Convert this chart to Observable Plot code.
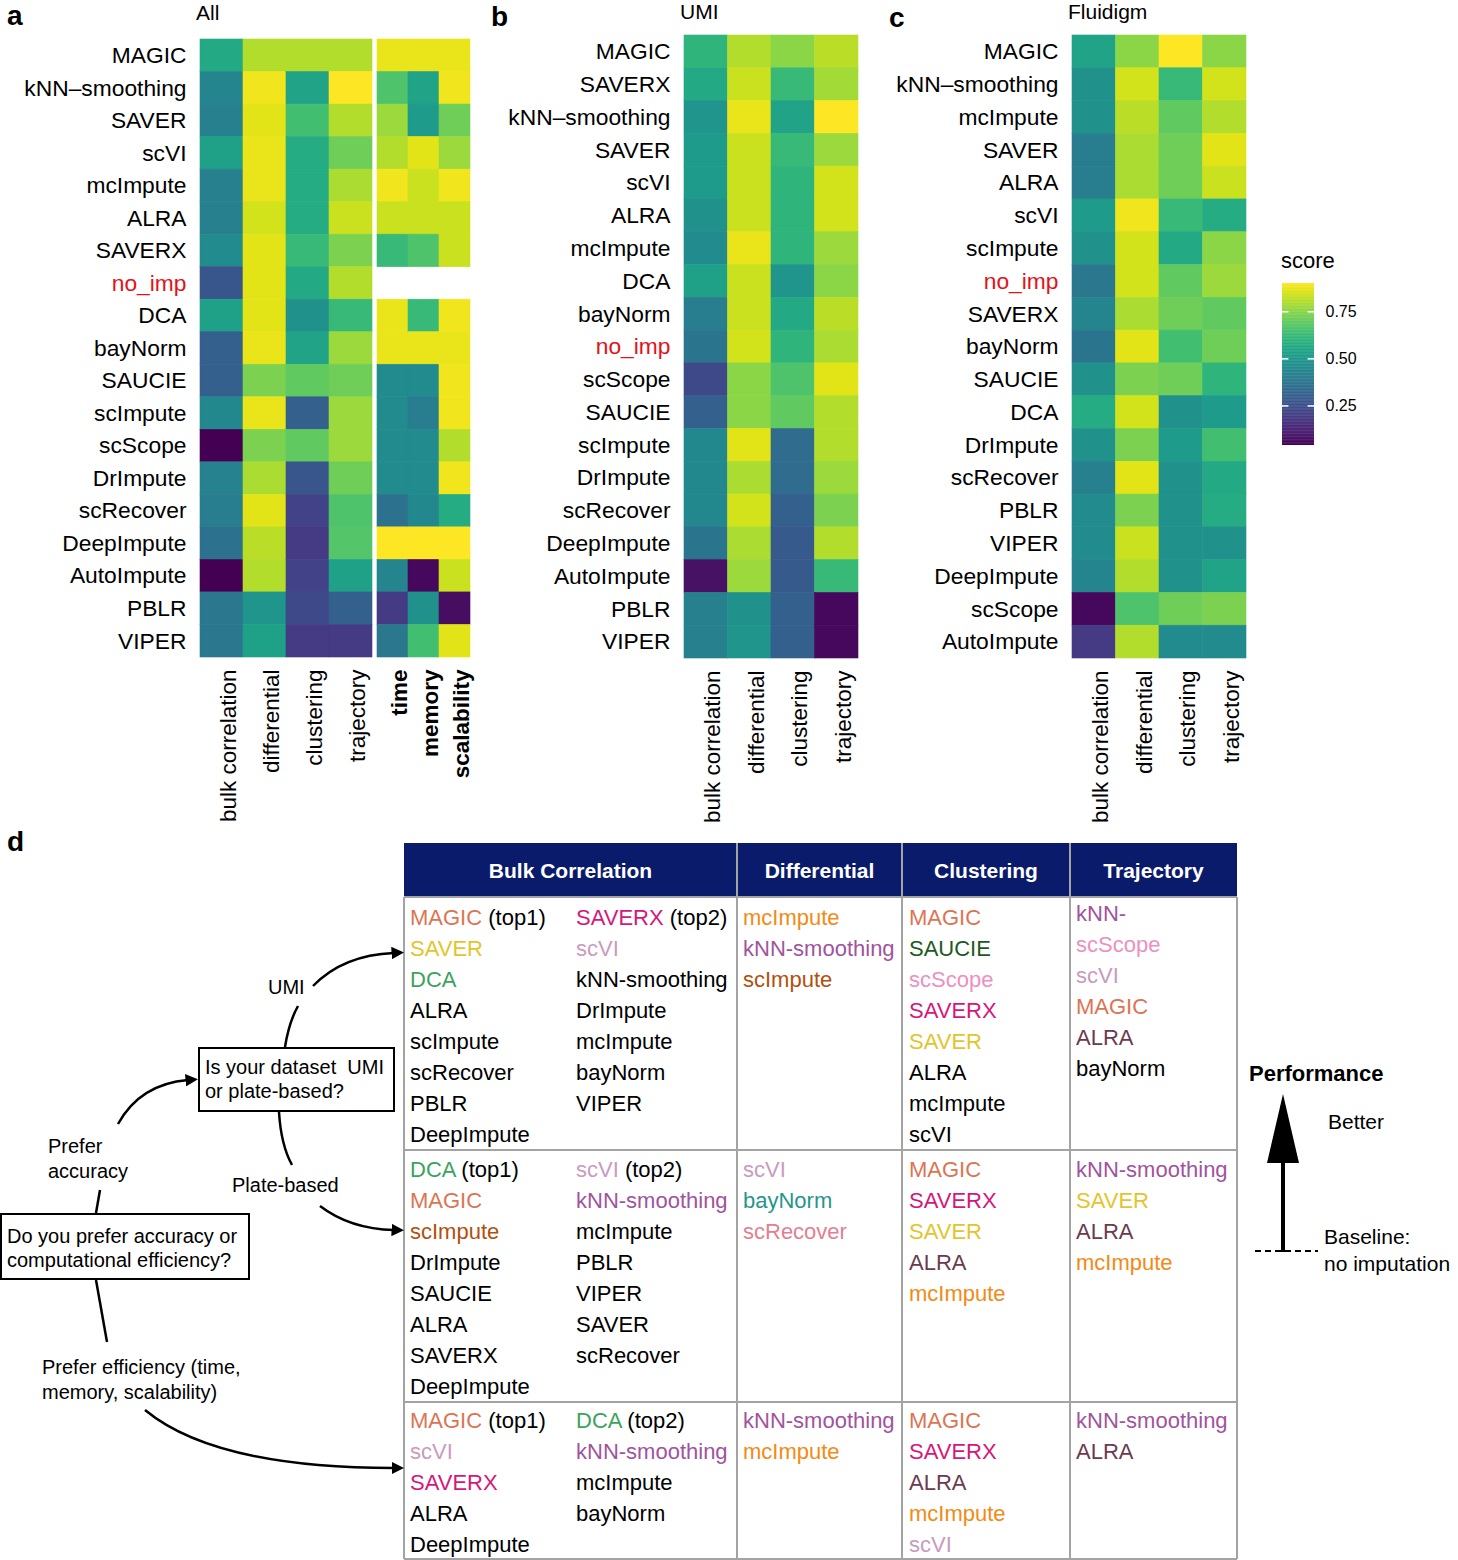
<!DOCTYPE html>
<html>
<head>
<meta charset="utf-8">
<script src="https://cdn.jsdelivr.net/npm/d3@7"></script>
<script src="https://cdn.jsdelivr.net/npm/@observablehq/plot@0.6"></script>
<style>
  html, body { margin: 0; padding: 0; background: #fff; }
  #page { position: relative; width: 1458px; height: 1560px; overflow: hidden;
          font-family: "Liberation Sans", Arial, Helvetica, sans-serif; color: #000; }
  .abs { position: absolute; white-space: pre; }
</style>
</head>
<body>
<div id="page"></div>
<script>
// ---------------- DATA ----------------
const perfMetrics = ["bulk correlation", "differential", "clustering", "trajectory"];
const effMetrics = ["time", "memory", "scalability"];

// Panel a: All
const methodsAll = ["MAGIC","kNN–smoothing","SAVER","scVI","mcImpute","ALRA","SAVERX","no_imp","DCA","bayNorm","SAUCIE","scImpute","scScope","DrImpute","scRecover","DeepImpute","AutoImpute","PBLR","VIPER"];
const allBulk  = [0.56,0.43,0.41,0.53,0.41,0.41,0.45,0.27,0.53,0.30,0.30,0.44,0.04,0.42,0.40,0.36,0.04,0.38,0.38];
const allDiff  = [0.80,0.88,0.86,0.87,0.87,0.84,0.86,0.86,0.86,0.87,0.73,0.87,0.73,0.79,0.86,0.81,0.80,0.49,0.53];
const allClust = [0.80,0.54,0.64,0.57,0.57,0.57,0.62,0.56,0.47,0.54,0.69,0.30,0.69,0.27,0.21,0.19,0.21,0.23,0.19];
const allTraj  = [0.80,0.90,0.80,0.71,0.79,0.83,0.73,0.80,0.62,0.77,0.71,0.77,0.77,0.71,0.66,0.67,0.53,0.30,0.19];
const allTime  = [0.87,0.66,0.77,0.80,0.88,0.83,0.62,null,0.87,0.87,0.45,0.45,0.45,0.45,0.36,0.90,0.43,0.19,0.38];
const allMem   = [0.87,0.54,0.51,0.86,0.83,0.83,0.66,null,0.62,0.87,0.45,0.40,0.45,0.45,0.44,0.90,0.06,0.47,0.64];
const allScal  = [0.87,0.88,0.71,0.77,0.88,0.83,0.83,null,0.88,0.87,0.88,0.88,0.80,0.88,0.57,0.90,0.83,0.07,0.86];

// Panel b: UMI
const methodsUMI = ["MAGIC","SAVERX","kNN–smoothing","SAVER","scVI","ALRA","mcImpute","DCA","bayNorm","no_imp","scScope","SAUCIE","scImpute","DrImpute","scRecover","DeepImpute","AutoImpute","PBLR","VIPER"];
const umiBulk  = [0.60,0.56,0.49,0.51,0.51,0.47,0.45,0.53,0.40,0.37,0.23,0.30,0.44,0.44,0.44,0.37,0.08,0.41,0.41];
const umiDiff  = [0.80,0.83,0.87,0.83,0.83,0.83,0.87,0.83,0.83,0.84,0.75,0.75,0.86,0.79,0.84,0.79,0.77,0.47,0.49];
const umiClust = [0.75,0.62,0.54,0.62,0.60,0.60,0.60,0.49,0.56,0.60,0.66,0.69,0.34,0.34,0.30,0.28,0.28,0.30,0.30];
const umiTraj  = [0.81,0.78,0.90,0.77,0.84,0.84,0.77,0.75,0.81,0.79,0.86,0.80,0.80,0.77,0.73,0.80,0.62,0.06,0.06];

// Panel c: Fluidigm
const methodsFlu = ["MAGIC","kNN–smoothing","mcImpute","SAVER","ALRA","scVI","scImpute","no_imp","SAVERX","bayNorm","SAUCIE","DCA","DrImpute","scRecover","PBLR","VIPER","DeepImpute","scScope","AutoImpute"];
const fluBulk  = [0.54,0.47,0.47,0.40,0.40,0.51,0.47,0.38,0.43,0.37,0.47,0.57,0.47,0.41,0.45,0.45,0.43,0.06,0.19];
const fluDiff  = [0.75,0.84,0.81,0.79,0.79,0.88,0.84,0.84,0.79,0.86,0.73,0.84,0.73,0.86,0.73,0.83,0.80,0.66,0.80];
const fluClust = [0.90,0.62,0.69,0.71,0.71,0.62,0.56,0.69,0.71,0.64,0.71,0.47,0.51,0.47,0.47,0.47,0.47,0.71,0.45];
const fluTraj  = [0.75,0.84,0.80,0.86,0.83,0.57,0.75,0.77,0.69,0.71,0.60,0.51,0.64,0.56,0.57,0.47,0.54,0.73,0.45];

const legendTicks = [0.25, 0.50, 0.75];
const scoreDomain = [0.04, 0.90];

// Panel d: recommendation table
const tableHeaders = ["Bulk Correlation", "Differential", "Clustering", "Trajectory"];
const rowUMI = {
  bulk1: ["MAGIC","SAVER","DCA","ALRA","scImpute","scRecover","PBLR","DeepImpute"], bulk1Hl: 3,
  bulk2: ["SAVERX","scVI","kNN-smoothing","DrImpute","mcImpute","bayNorm","VIPER"], bulk2Hl: 2,
  diff: ["mcImpute","kNN-smoothing","scImpute"], diffHl: 3,
  clust: ["MAGIC","SAUCIE","scScope","SAVERX","SAVER","ALRA","mcImpute","scVI"], clustHl: 5,
  traj: ["kNN-","scScope","scVI","MAGIC","ALRA","bayNorm"], trajHl: 5
};
const rowPlate = {
  bulk1: ["DCA","MAGIC","scImpute","DrImpute","SAUCIE","ALRA","SAVERX","DeepImpute"], bulk1Hl: 3,
  bulk2: ["scVI","kNN-smoothing","mcImpute","PBLR","VIPER","SAVER","scRecover"], bulk2Hl: 2,
  diff: ["scVI","bayNorm","scRecover"], diffHl: 3,
  clust: ["MAGIC","SAVERX","SAVER","ALRA","mcImpute"], clustHl: 5,
  traj: ["kNN-smoothing","SAVER","ALRA","mcImpute"], trajHl: 4
};
const rowEff = {
  bulk1: ["MAGIC","scVI","SAVERX","ALRA","DeepImpute"], bulk1Hl: 3,
  bulk2: ["DCA","kNN-smoothing","mcImpute","bayNorm"], bulk2Hl: 2,
  diff: ["kNN-smoothing","mcImpute"], diffHl: 2,
  clust: ["MAGIC","SAVERX","ALRA","mcImpute","scVI"], clustHl: 5,
  traj: ["kNN-smoothing","ALRA"], trajHl: 2
};
const methodColors = {
  "MAGIC": "#dc7452", "SAVERX": "#d4187a", "SAVER": "#e3c42c", "scVI": "#c89bbf",
  "DCA": "#3ba35d", "mcImpute": "#f38a16", "kNN-smoothing": "#a0549d", "kNN-": "#a0549d",
  "scImpute": "#b2500d", "SAUCIE": "#1d5a1f", "scScope": "#ec90c2", "ALRA": "#6c3a4f",
  "bayNorm": "#26968a", "scRecover": "#e27f93"
};

// ---------------- HELPERS ----------------
const FONT = '"Liberation Sans", Arial, Helvetica, sans-serif';
const page = document.getElementById("page");
function put(el, left, top) {
  el.style.position = "absolute"; el.style.left = left + "px"; el.style.top = top + "px";
  page.appendChild(el); return el;
}
function label(text, x, yc, o = {}) {
  const d = document.createElement("div");
  d.className = "abs";
  const fs = o.size || 20, lh = o.lh || Math.round(fs * 1.3);
  d.textContent = text;
  d.style.fontSize = fs + "px"; d.style.lineHeight = lh + "px";
  if (o.bold) d.style.fontWeight = "bold";
  if (o.color) d.style.color = o.color;
  d.style.left = x + "px"; d.style.top = (yc - lh / 2) + "px";
  if (o.center) { d.style.transform = "translateX(-50%)"; }
  page.appendChild(d); return d;
}

const colorOpts = { type: "linear", scheme: "viridis", domain: scoreDomain };

function tidy(methods, metrics, cols) {
  const out = [];
  metrics.forEach((m, j) => methods.forEach((r, i) => {
    const v = cols[j][i];
    if (v != null) out.push({ method: r, metric: m, score: v });
  }));
  return out;
}

function heat({ methods, metrics, data, cellW, cellH, marginLeft, rowLabels, bold }) {
  const w = marginLeft + cellW, h = cellH + 185;
  return Plot.plot({
    width: w, height: h, marginLeft, marginRight: 0, marginTop: 0, marginBottom: 185,
    x: { domain: metrics, padding: 0, round: false, label: null, axis: null },
    y: { domain: methods, padding: 0, round: false, label: null, axis: null },
    color: colorOpts,
    style: { fontFamily: FONT, color: "#000", background: "transparent", overflow: "visible" },
    marks: [
      Plot.cell(data, { x: "metric", y: "method", fill: "score", stroke: "score", strokeWidth: 0.6, inset: 0 }),
      Plot.axisX({ tickRotate: -90, tickSize: 0, tickPadding: 12, fontSize: 22.5, dx: 7,
                   fontWeight: bold ? "bold" : "normal", label: null }),
      rowLabels ? Plot.text(methods, { y: d => d, text: d => d, frameAnchor: "left", textAnchor: "end",
                   dx: -14, fontSize: 22.8, fill: d => d === "no_imp" ? "#e3121b" : "#000" }) : null
    ]
  });
}

// ---------------- PANEL a ----------------
put(heat({ methods: methodsAll, metrics: perfMetrics,
  data: tidy(methodsAll, perfMetrics, [allBulk, allDiff, allClust, allTraj]),
  cellW: 172, cellH: 618, marginLeft: 200, rowLabels: true }), 0, 39);
put(heat({ methods: methodsAll, metrics: effMetrics,
  data: tidy(methodsAll, effMetrics, [allTime, allMem, allScal]),
  cellW: 93, cellH: 618, marginLeft: 0, rowLabels: false, bold: true }), 377, 39);

// ---------------- PANEL b ----------------
put(heat({ methods: methodsUMI, metrics: perfMetrics,
  data: tidy(methodsUMI, perfMetrics, [umiBulk, umiDiff, umiClust, umiTraj]),
  cellW: 174, cellH: 623, marginLeft: 200, rowLabels: true }), 484, 35);

// ---------------- PANEL c ----------------
put(heat({ methods: methodsFlu, metrics: perfMetrics,
  data: tidy(methodsFlu, perfMetrics, [fluBulk, fluDiff, fluClust, fluTraj]),
  cellW: 174, cellH: 623, marginLeft: 200, rowLabels: true }), 872, 35);

// Panel letters & titles
label("a", 7, 16, { size: 28, bold: true, lh: 32 });
label("b", 491, 17, { size: 28, bold: true, lh: 28 });
label("c", 889, 18, { size: 28, bold: true, lh: 28 });
label("d", 7, 842, { size: 28, bold: true, lh: 28 });
label("All", 196, 13, { size: 21, lh: 24 });
label("UMI", 680, 12, { size: 21, lh: 24 });
label("Fluidigm", 1068, 12, { size: 21, lh: 24 });

// ---------------- COLOR LEGEND ----------------
const legendSteps = d3.range(scoreDomain[0], scoreDomain[1], 0.004);
label("score", 1281, 260, { size: 22 });
put(Plot.plot({
  width: 100, height: 162, marginLeft: 0, marginRight: 68, marginTop: 0, marginBottom: 0,
  x: { domain: [0, 1], axis: null },
  y: { domain: scoreDomain, axis: null },
  color: colorOpts,
  style: { fontFamily: FONT, color: "#000", overflow: "visible" },
  marks: [
    Plot.rect(legendSteps, { x1: () => 0, x2: () => 1, y1: d => d, y2: d => Math.min(d + 0.006, scoreDomain[1]), fill: d => d }),
    Plot.ruleY(legendTicks, { x1: () => 0, x2: () => 0.2, stroke: "white", strokeWidth: 1.5 }),
    Plot.ruleY(legendTicks, { x1: () => 0.8, x2: () => 1, stroke: "white", strokeWidth: 1.5 }),
    Plot.axisY(legendTicks, { anchor: "right", tickSize: 0, tickPadding: 11, fontSize: 16,
                              tickFormat: d3.format(".2f"), label: null })
  ]
}), 1282, 283);

// ---------------- PANEL d: TABLE ----------------
const T = { left: 404, right: 1237, top: 843, headBottom: 897, bottom: 1559 };
const colX = [404, 737, 902, 1070, 1237];
const rowY = [897, 1150, 1402, 1559];
const head = document.createElement("div");
head.style.width = (T.right - T.left) + "px"; head.style.height = (T.headBottom - T.top) + "px";
head.style.background = "#0b1b6c";
put(head, T.left, T.top);
tableHeaders.forEach((h, i) => {
  label(h, (colX[i] + colX[i + 1]) / 2, 870, { size: 21, bold: true, color: "#fff", center: true });
});
function line(x1, y1, x2, y2, c = "#a3a3a3", w = 2) {
  const d = document.createElement("div");
  d.style.background = c;
  if (x1 === x2) { d.style.width = w + "px"; d.style.height = (y2 - y1) + "px"; put(d, x1 - w / 2, y1); }
  else { d.style.height = w + "px"; d.style.width = (x2 - x1) + "px"; put(d, x1, y1 - w / 2); }
}
// grid
line(T.left, T.headBottom, T.left, T.bottom);
line(T.right, T.headBottom, T.right, T.bottom);
[1, 2, 3].forEach(i => line(colX[i], T.top, colX[i], T.bottom));
rowY.forEach(y => line(T.left, y, T.right, y));

function cellList(names, nHl, x, top, suffix) {
  const box = document.createElement("div");
  box.className = "abs";
  box.style.fontSize = "22px"; box.style.lineHeight = "31px";
  names.forEach((n, i) => {
    const row = document.createElement("div");
    const span = document.createElement("span");
    span.textContent = n;
    span.style.color = i < nHl ? (methodColors[n] || "#000") : "#000";
    row.appendChild(span);
    if (i === 0 && suffix) { row.appendChild(document.createTextNode(" " + suffix)); }
    box.appendChild(row);
  });
  put(box, x, top);
}
const rowsData = [rowUMI, rowPlate, rowEff];
const rowTextTop = [902, 1154, 1405];
rowsData.forEach((r, k) => {
  const t = rowTextTop[k];
  cellList(r.bulk1, r.bulk1Hl, 410, t, "(top1)");
  cellList(r.bulk2, r.bulk2Hl, 576, t, "(top2)");
  cellList(r.diff, r.diffHl, 743, t);
  cellList(r.clust, r.clustHl, 909, t);
  cellList(r.traj, r.trajHl, 1076, k === 0 ? t - 4 : t);
});

// ---------------- PANEL d: FLOWCHART ----------------
function box(x, y, w, h) {
  const d = document.createElement("div");
  d.style.width = w + "px"; d.style.height = h + "px";
  d.style.border = "2.5px solid #000"; d.style.boxSizing = "border-box"; d.style.background = "#fff";
  put(d, x, y);
}
box(198, 1047, 197, 65);
label("Is your dataset  UMI", 205, 1067, { size: 20 });
label("or plate-based?", 205, 1091, { size: 20 });
box(0, 1213, 250, 67);
label("Do you prefer accuracy or", 7, 1236, { size: 20 });
label("computational efficiency?", 7, 1260, { size: 20 });
label("UMI", 268, 987, { size: 20 });
label("Prefer", 48, 1146, { size: 20 });
label("accuracy", 48, 1171, { size: 20 });
label("Plate-based", 232, 1185, { size: 20 });
label("Prefer efficiency (time,", 42, 1367, { size: 20 });
label("memory, scalability)", 42, 1392, { size: 20 });

// Performance legend
label("Performance", 1249, 1073, { size: 22, bold: true });
label("Better", 1328, 1121, { size: 21 });
label("Baseline:", 1324, 1236, { size: 21 });
label("no imputation", 1324, 1263, { size: 21 });

const svgNS = "http://www.w3.org/2000/svg";
const svg = document.createElementNS(svgNS, "svg");
svg.setAttribute("width", 1458); svg.setAttribute("height", 1560);
svg.style.position = "absolute"; svg.style.left = "0"; svg.style.top = "0"; svg.style.pointerEvents = "none";
svg.innerHTML = `
<defs>
  <marker id="ah" viewBox="0 0 10 10" refX="2" refY="5" markerWidth="5" markerHeight="5" orient="auto" markerUnits="strokeWidth">
    <path d="M0,0 L10,5 L0,10 z" fill="#000"/>
  </marker>
</defs>
<g fill="none" stroke="#000" stroke-width="2.5">
  <path d="M285,1047 Q289,1022 298,1006"/>
  <path d="M313,986 Q343,955 394,953" marker-end="url(#ah)"/>
  <path d="M96,1213 L100,1190"/>
  <path d="M118,1124 Q140,1084 188,1080" marker-end="url(#ah)"/>
  <path d="M279,1112 Q281,1145 292,1165"/>
  <path d="M320,1206 Q350,1229 394,1230" marker-end="url(#ah)"/>
  <path d="M96,1280 L107,1342"/>
  <path d="M145,1410 Q215,1468 394,1468" marker-end="url(#ah)"/>
</g>
<line x1="1283" y1="1252" x2="1283" y2="1150" stroke="#000" stroke-width="4"/>
<polygon points="1283,1094 1267,1163 1299,1163" fill="#000"/>
<line x1="1255" y1="1251" x2="1318" y2="1251" stroke="#000" stroke-width="2" stroke-dasharray="6,4"/>
`;
page.appendChild(svg);
</script>
</body>
</html>
